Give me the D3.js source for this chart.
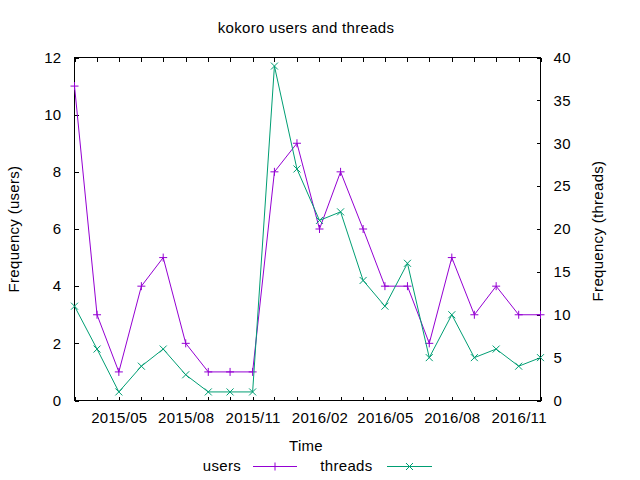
<!DOCTYPE html>
<html>
<head>
<meta charset="utf-8">
<script src="https://cdn.jsdelivr.net/npm/d3@7"></script>
<style>
  html, body { margin: 0; padding: 0; background: #fff; }
  svg { display: block; }
  text { font-family: "Liberation Sans", Arial, sans-serif; font-size: 15px; fill: #000; letter-spacing: 0.3px; }
</style>
</head>
<body>
<script>
const months = ["2015-03","2015-04","2015-05","2015-06","2015-07","2015-08","2015-09","2015-10","2015-11","2015-12",
                "2016-01","2016-02","2016-03","2016-04","2016-05","2016-06","2016-07","2016-08","2016-09","2016-10","2016-11","2016-12"];
const users   = [11, 3, 1, 4, 5, 2, 1, 1, 1, 8, 9, 6, 8, 6, 4, 4, 2, 5, 3, 4, 3, 3];
const threads = [11, 6, 1, 4, 6, 3, 1, 1, 1, 39, 27, 21, 22, 14, 11, 16, 5, 10, 5, 6, 4, 5];
const usersTicks = [0, 2, 4, 6, 8, 10, 12];
const threadsTicks = [0, 5, 10, 15, 20, 25, 30, 35, 40];
const labeledMonths = [1, 4, 7, 10]; // Feb, May, Aug, Nov
const titleText = "kokoro users and threads";
const seriesNames = ["users", "threads"];

const W = 640, H = 480;
const L = 74.5, R = 540.5, T = 57.5, B = 400.5;
const cUsers = "#9400d3", cThreads = "#009e73";

const parse = d3.timeParse("%Y-%m");
const dates = months.map(parse);
const fmt = d3.timeFormat("%Y/%m");

const svg = d3.select("body").append("svg").attr("width", W).attr("height", H);

const x = d3.scaleTime().domain([dates[0], dates[dates.length - 1]]).range([L, R]);
const yL = d3.scaleLinear().domain([0, 12]).range([B, T]);
const yR = d3.scaleLinear().domain([0, 40]).range([B, T]);

function styleAxis(g) {
  g.attr("font-family", null).attr("font-size", null);
  g.select(".domain").remove();
  g.selectAll(".tick line").attr("stroke", "#000").attr("shape-rendering", "crispEdges");
  g.selectAll(".tick text").attr("fill", "#000");
}

const monthTicks = d3.timeMonth.every(1);

svg.append("g").attr("transform", `translate(0,${B})`)
  .call(d3.axisBottom(x).ticks(monthTicks).tickSize(-4).tickPadding(12)
        .tickFormat(d => labeledMonths.includes(d.getMonth()) ? fmt(d) : ""))
  .call(styleAxis);

svg.append("g").attr("transform", `translate(0,${T})`)
  .call(d3.axisTop(x).ticks(monthTicks).tickSize(-4).tickFormat(""))
  .call(styleAxis);

svg.append("g").attr("transform", `translate(${L},0)`)
  .call(d3.axisLeft(yL).tickValues(usersTicks).tickSize(-4).tickPadding(13))
  .call(styleAxis);

svg.append("g").attr("transform", `translate(${R},0)`)
  .call(d3.axisRight(yR).tickValues(threadsTicks).tickSize(-4).tickPadding(13))
  .call(styleAxis);

// border
svg.append("rect").attr("x", L).attr("y", T).attr("width", R - L).attr("height", B - T)
  .attr("fill", "none").attr("stroke", "#000").attr("shape-rendering", "crispEdges");

// series
const plus = s => `M${-s},0H${s}M0,${-s}V${s}`;
const cross = s => `M${-s},${-s}L${s},${s}M${-s},${s}L${s},${-s}`;

function drawSeries(vals, yScale, color, marker) {
  const line = d3.line().x((d, i) => x(dates[i])).y(d => yScale(d));
  svg.append("path").datum(vals).attr("d", line)
    .attr("fill", "none").attr("stroke", color).attr("stroke-width", 1);
  svg.append("g").selectAll("path").data(vals).join("path")
    .attr("transform", (d, i) => `translate(${x(dates[i])},${yScale(d)})`)
    .attr("d", marker).attr("fill", "none").attr("stroke", color).attr("stroke-width", 1);
}
drawSeries(users, yL, cUsers, plus(4));
drawSeries(threads, yR, cThreads, cross(3.5));

// titles
svg.append("text").attr("x", 306).attr("y", 33).attr("text-anchor", "middle").text(titleText);
svg.append("text").attr("x", 306).attr("y", 451).attr("text-anchor", "middle").text("Time");
svg.append("text").attr("transform", "translate(14,229) rotate(-90)").attr("dy", "0.35em")
  .attr("text-anchor", "middle").text("Frequency (users)");
svg.append("text").attr("transform", "translate(598,231) rotate(-90)").attr("dy", "0.35em")
  .attr("text-anchor", "middle").text("Frequency (threads)");

// legend
const legend = [
  { name: seriesNames[0], color: cUsers, marker: plus(4), tx: 241, x0: 253, x1: 297 },
  { name: seriesNames[1], color: cThreads, marker: cross(3.5), tx: 372.5, x0: 387, x1: 432 }
];
const ly = 466.5;
legend.forEach(l => {
  svg.append("text").attr("x", l.tx).attr("y", 471).attr("text-anchor", "end").text(l.name);
  svg.append("line").attr("x1", l.x0).attr("x2", l.x1).attr("y1", ly).attr("y2", ly)
    .attr("stroke", l.color).attr("stroke-width", 1);
  svg.append("path").attr("transform", `translate(${(l.x0 + l.x1) / 2},${ly})`)
    .attr("d", l.marker).attr("fill", "none").attr("stroke", l.color);
});
</script>
</body>
</html>
